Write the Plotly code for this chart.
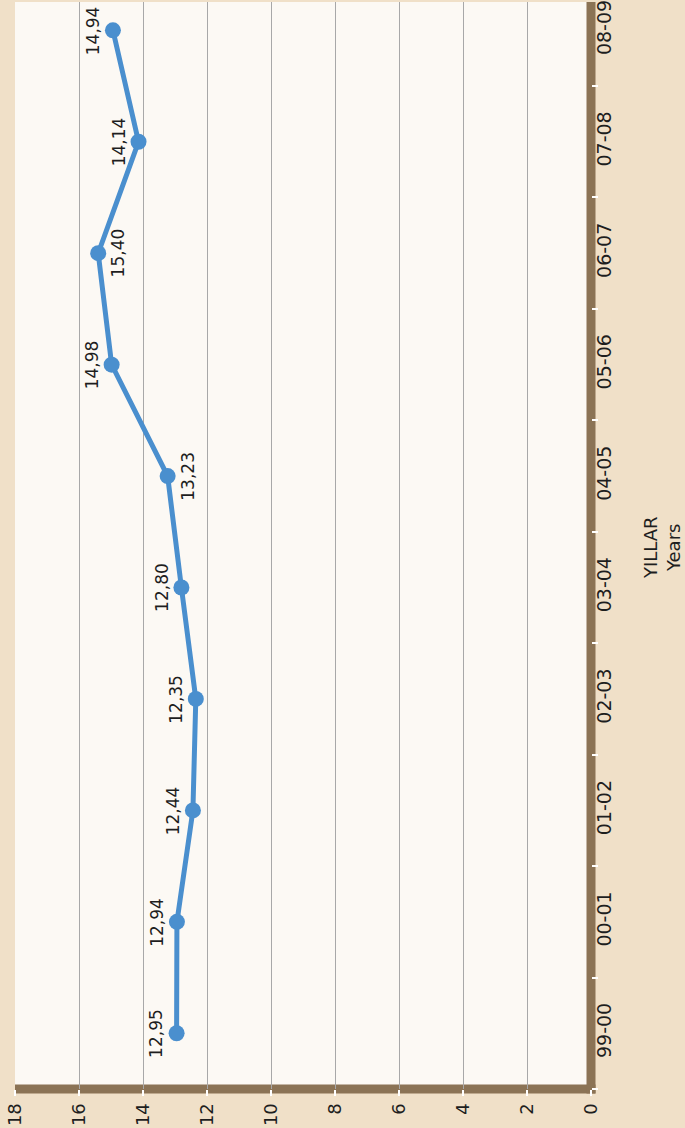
import plotly.graph_objects as go

# ---- data ----
years = ["99-00", "00-01", "01-02", "02-03", "03-04", "04-05", "05-06", "06-07", "07-08", "08-09"]
values = [12.95, 12.94, 12.44, 12.35, 12.80, 13.23, 14.98, 15.40, 14.14, 14.94]
value_ticks = [0, 2, 4, 6, 8, 10, 12, 14, 16, 18]
axis_title = "YILLAR<br>Years"

# ---- styling ----
label_side = [-1, -1, -1, -1, -1, 1, -1, 1, -1, -1]  # -1: left of point, 1: right
FONT = "DejaVu Sans"
BLUE = "#4a8fce"
BROWN = "#8b7355"
PAPER = "#f0e0c8"
PLOT = "#fcf9f4"
TXT = "#1e1e1e"

fig = go.Figure()
fig.add_trace(go.Scatter(
    x=values, y=years, mode="lines+markers",
    line=dict(color=BLUE, width=5),
    marker=dict(color=BLUE, size=16),
    hoverinfo="skip", showlegend=False,
))

annotations = []
for v, c, s in zip(values, years, label_side):
    annotations.append(dict(
        x=v, y=c, xref="x", yref="y", text=f"{v:.2f}".replace(".", ","),
        textangle=-90, showarrow=False, xshift=20 * s,
        font=dict(family=FONT, size=17, color=TXT),
    ))
annotations.append(dict(
    x=1.1223, y=0.498, xref="paper", yref="paper", text=axis_title,
    textangle=-90, showarrow=False, xanchor="center", yanchor="middle",
    font=dict(family=FONT, size=18, color=TXT),
))

shapes = [
    # bottom axis band
    dict(type="rect", xref="paper", yref="paper", layer="below",
         x0=0, x1=1.0078, ysizemode="pixel", yanchor=0, y0=-4.5, y1=4.5,
         fillcolor=BROWN, line=dict(width=0)),
    # right axis band
    dict(type="rect", xref="paper", yref="paper", layer="below",
         xsizemode="pixel", xanchor=1, x0=-4.5, x1=4.5, y0=-0.0041, y1=1,
         fillcolor=BROWN, line=dict(width=0)),
]

fig.update_layout(
    width=685, height=1128,
    margin=dict(l=15, r=93.5, t=0, b=38.5, pad=0),
    paper_bgcolor=PAPER, plot_bgcolor=PLOT,
    font=dict(family=FONT, color=TXT),
    annotations=annotations, shapes=shapes,
    xaxis=dict(
        range=[18, 0], tickvals=value_ticks, ticktext=[str(t) for t in value_ticks],
        showgrid=True, gridcolor="#a8a8a8", gridwidth=1, zeroline=False, showline=False,
        ticks="outside", ticklen=6, tickwidth=1.5, tickcolor="white",
        tickangle=-90, tickfont=dict(family=FONT, size=18, color=TXT),
        fixedrange=True,
    ),
    yaxis=dict(
        type="category", categoryarray=years, range=[-0.5, 9.254],
        side="right", tickson="boundaries", showgrid=False, zeroline=False, showline=False,
        ticks="outside", ticklen=6, tickwidth=1.5, tickcolor="white",
        tickangle=-90, tickfont=dict(family=FONT, size=19, color=TXT),
        fixedrange=True,
    ),
)

fig.write_html(
    "out.html",
    config={"displayModeBar": False},
    post_script="document.body.style.margin='0';document.body.style.overflow='hidden';",
)
